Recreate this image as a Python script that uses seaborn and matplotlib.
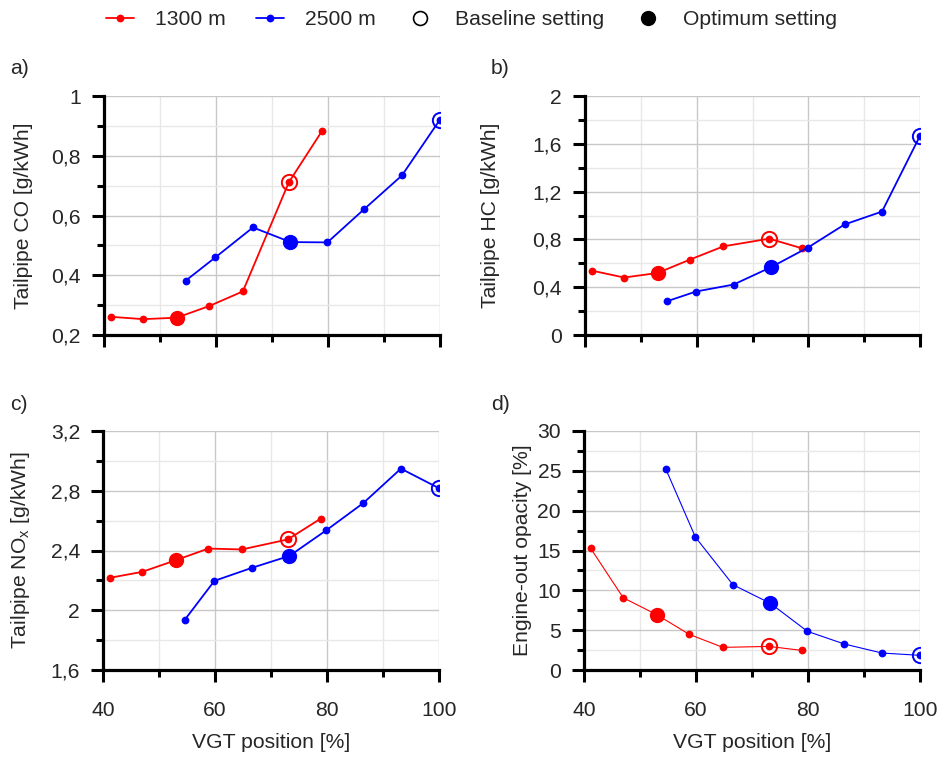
import numpy as np
import pandas as pd
import matplotlib
matplotlib.use("Agg")
import matplotlib.pyplot as plt
from matplotlib.lines import Line2D
from matplotlib.ticker import MultipleLocator, FuncFormatter
import seaborn as sns

# ---------------- data ----------------
x_1300 = [41.2, 47.0, 53.0, 58.8, 64.8, 73.0, 78.9]
x_2500 = [54.6, 59.9, 66.6, 73.3, 79.9, 86.5, 93.2, 100.0]

co_1300 = [0.261, 0.253, 0.258, 0.297, 0.346, 0.711, 0.882]
co_2500 = [0.382, 0.460, 0.560, 0.511, 0.510, 0.622, 0.734, 0.921]
hc_1300 = [0.539, 0.481, 0.519, 0.631, 0.742, 0.806, 0.725]
hc_2500 = [0.281, 0.364, 0.422, 0.567, 0.731, 0.925, 1.033, 1.667]
nox_1300 = [2.217, 2.257, 2.335, 2.413, 2.407, 2.474, 2.614]
nox_2500 = [1.936, 2.197, 2.284, 2.364, 2.536, 2.718, 2.948, 2.817]
op_1300 = [15.26, 9.07, 6.94, 4.47, 2.84, 2.96, 2.46]
op_2500 = [25.24, 16.67, 10.70, 8.36, 4.85, 3.26, 2.13, 1.84]

series_names = ["1300 m", "2500 m"]
opt_idx = {"1300 m": 2, "2500 m": 3}
base_idx = {"1300 m": 5, "2500 m": 7}

panels = [
    ("a)", "Tailpipe CO [g/kWh]", co_1300, co_2500, (0.2, 1.0), 0.2, 0.1),
    ("b)", "Tailpipe HC [g/kWh]", hc_1300, hc_2500, (0.0, 2.0), 0.4, 0.2),
    ("c)", "Tailpipe NO$_\\mathregular{x}$ [g/kWh]", nox_1300, nox_2500, (1.6, 3.2), 0.4, 0.2),
    ("d)", "Engine-out opacity [%]", op_1300, op_2500, (0, 30), 5, 2.5),
]
xticks = [40, 60, 80, 100]
legend_labels = ["1300 m", "2500 m", "Baseline setting", "Optimum setting"]

# ---------------- style ----------------
sns.set_style("white")
plt.rcParams["font.family"] = ["Liberation Sans", "DejaVu Sans"]
plt.rcParams["mathtext.fontset"] = "custom"
plt.rcParams["mathtext.rm"] = "Liberation Sans"
FS = 15.2
colors = {"1300 m": "#ff0000", "2500 m": "#0000ff"}

fig = plt.figure(figsize=(9.38, 7.57), dpi=100)
W, H = 938, 757
pos = {
    "a)": (104, 96, 440, 335),
    "b)": (585, 96, 920, 335),
    "c)": (103, 431, 439, 670),
    "d)": (584, 431, 920, 670),
}
label_x = {"a)": 33, "b)": 500, "c)": 32, "d)": 532}
letter_pos = {"a)": (10, 68), "b)": (491, 68), "c)": (10, 405), "d)": (491, 405)}


def fmt(v, _):
    s = f"{round(v, 3):g}"
    return s.replace(".", ",")


for letter, ylabel, y13, y25, ylim, ymaj, ymin in panels:
    l, t, r, b = pos[letter]
    ax = fig.add_axes([l / W, 1 - b / H, (r - l) / W, (b - t) / H])
    df = pd.DataFrame({
        "x": list(x_1300) + list(x_2500),
        "y": list(y13) + list(y25),
        "Altitude": ["1300 m"] * len(x_1300) + ["2500 m"] * len(x_2500),
    })
    lw = 0.8 if letter == "d)" else 1.3
    sns.lineplot(data=df, x="x", y="y", hue="Altitude", hue_order=series_names,
                 palette=colors, marker="o", markersize=5.6, markeredgewidth=0,
                 linewidth=lw, estimator=None, sort=False, legend=False, ax=ax,
                 zorder=3)
    for name, xs, ys in [("1300 m", x_1300, y13), ("2500 m", x_2500, y25)]:
        i = opt_idx[name]
        ax.plot([xs[i]], [ys[i]], "o", ms=11, color=colors[name], mew=0, zorder=5)
        j = base_idx[name]
        ax.plot([xs[j]], [ys[j]], "o", ms=11, mfc="none", mec=colors[name],
                mew=1.4, zorder=5)

    ax.set_xlim(40, 100)
    ax.set_ylim(*ylim)
    ax.xaxis.set_major_locator(MultipleLocator(20))
    ax.xaxis.set_minor_locator(MultipleLocator(10))
    ax.yaxis.set_major_locator(MultipleLocator(ymaj))
    ax.yaxis.set_minor_locator(MultipleLocator(ymin))
    ax.yaxis.set_major_formatter(FuncFormatter(fmt))
    ax.grid(which="major", color="#c8c8c8", linewidth=1.0, zorder=0)
    ax.grid(which="minor", color="#e8e8e8", linewidth=1.0, zorder=0)
    ax.set_axisbelow(True)
    for s in ["top", "right"]:
        ax.spines[s].set_visible(False)
    for s in ["left", "bottom"]:
        ax.spines[s].set_linewidth(2.3)
        ax.spines[s].set_color("black")
    ax.tick_params(which="major", direction="out", length=8.5, width=2.2, color="black",
                   labelsize=FS, left=True, bottom=True)
    ax.tick_params(which="minor", direction="out", length=5, width=2.2, color="black",
                   left=True, bottom=True)
    ax.tick_params(axis="y", which="major", pad=8)
    ax.tick_params(axis="x", which="major", pad=14)
    ax.set_ylabel(ylabel, fontsize=FS)
    ax.yaxis.set_label_coords((label_x[letter] - l) / (r - l), 0.5)
    if letter in ("a)", "b)"):
        ax.set_xlabel("")
        ax.tick_params(axis="x", labelbottom=False)
    else:
        ax.set_xticks(xticks)
        ax.set_xlabel("VGT position [%]", fontsize=FS)
        ax.xaxis.set_label_coords(0.5, (b - 733) / (b - t))
    lx, ly = letter_pos[letter]
    fig.text(lx / W, 1 - ly / H, letter, fontsize=FS, va="center", ha="left")

handles = [
    Line2D([0], [0], color=colors["1300 m"], marker="o", ms=5.6, mew=0, lw=1.3),
    Line2D([0], [0], color=colors["2500 m"], marker="o", ms=5.6, mew=0, lw=1.3),
    Line2D([0], [0], color="black", marker="o", ms=10, mfc="none", mew=1.2, lw=0),
    Line2D([0], [0], color="black", marker="o", ms=11, mew=0, lw=0),
]
fig.legend(handles, legend_labels, loc="center", bbox_to_anchor=(0.503, 0.974),
           ncol=4, frameon=False, fontsize=FS, handlelength=1.3,
           handletextpad=1.0, columnspacing=1.45)

fig.savefig("out.png", dpi=100)
